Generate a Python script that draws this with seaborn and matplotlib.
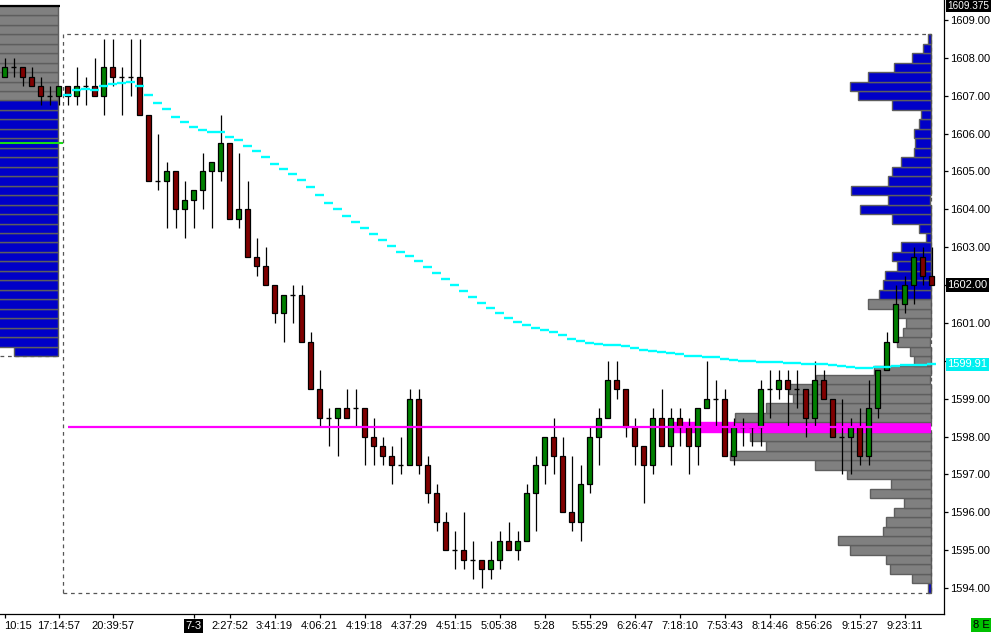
import numpy as np
import pandas as pd
import matplotlib
matplotlib.use("Agg")
import matplotlib.pyplot as plt
import seaborn as sns

# ---------------- data ----------------
opens = [1607.5, 1607.75, 1607.75, 1607.5, 1607.25, 1607.0, 1607.0, 1607.25, 1607.0, 1607.25,
         1607.25, 1607.0, 1607.75, 1607.5, 1607.5, 1607.5, 1606.5, 1604.75, 1604.75, 1605.0,
         1604.0, 1604.25, 1604.5, 1605.0, 1605.0, 1605.75, 1603.75, 1604.0, 1602.75, 1602.5,
         1602.0, 1601.25, 1601.75, 1601.75, 1600.5, 1599.25, 1598.5, 1598.5, 1598.75, 1598.75,
         1598.75, 1598.0, 1597.75, 1597.5, 1597.25, 1597.25, 1599.0, 1597.25, 1596.5, 1595.75,
         1595.0, 1595.0, 1594.75, 1594.75, 1594.5, 1594.75, 1595.25, 1595.0, 1595.25, 1596.5,
         1597.25, 1598.0, 1597.5, 1596.0, 1595.75, 1596.75, 1598.0, 1598.5, 1599.5, 1599.25,
         1598.25, 1597.75, 1597.25, 1598.5, 1597.75, 1598.5, 1598.25, 1597.75, 1598.75, 1599.0,
         1599.0, 1597.5, 1598.25, 1598.25, 1598.25, 1599.25, 1599.25, 1599.5, 1599.25, 1599.25,
         1598.5, 1599.5, 1599.0, 1598.0, 1598.0, 1598.25, 1597.5, 1598.75, 1599.75, 1600.5,
         1601.5, 1602.0, 1602.75, 1602.25]
highs = [1608.0, 1608.0, 1607.75, 1607.75, 1607.5, 1607.25, 1607.25, 1607.25, 1607.75, 1607.5,
         1608.0, 1608.5, 1608.5, 1607.75, 1608.5, 1608.5, 1606.5, 1606.0, 1605.25, 1605.0,
         1604.75, 1604.5, 1605.5, 1605.25, 1606.5, 1605.75, 1605.5, 1604.75, 1603.25, 1603.0,
         1602.0, 1601.75, 1602.0, 1602.0, 1600.75, 1599.75, 1598.75, 1598.75, 1599.25, 1599.25,
         1598.75, 1598.5, 1598.0, 1597.75, 1598.0, 1599.25, 1599.25, 1597.5, 1596.75, 1596.0,
         1595.5, 1596.0, 1595.25, 1594.75, 1595.25, 1595.5, 1595.75, 1595.5, 1596.75, 1597.5,
         1598.0, 1598.5, 1598.0, 1597.5, 1597.25, 1598.25, 1598.75, 1600.0, 1600.0, 1599.25,
         1598.5, 1597.75, 1598.75, 1599.25, 1598.75, 1598.75, 1598.5, 1598.75, 1600.0, 1599.5,
         1599.25, 1598.5, 1598.5, 1598.25, 1599.5, 1599.75, 1599.75, 1599.75, 1599.75, 1599.25,
         1600.0, 1599.75, 1599.0, 1599.0, 1598.5, 1598.75, 1599.5, 1599.75, 1600.75, 1602.0,
         1602.25, 1603.0, 1603.0, 1603.0]
lows = [1607.5, 1607.5, 1607.25, 1607.25, 1606.75, 1606.75, 1606.75, 1606.75, 1606.75, 1606.75,
        1607.0, 1606.5, 1607.25, 1606.5, 1607.0, 1606.5, 1604.75, 1604.5, 1603.5, 1603.5,
        1603.25, 1603.5, 1604.0, 1603.5, 1604.75, 1603.75, 1603.5, 1602.75, 1602.25, 1602.0,
        1601.0, 1600.5, 1601.0, 1600.5, 1599.25, 1598.25, 1597.75, 1597.5, 1598.5, 1598.25,
        1597.25, 1597.25, 1597.25, 1596.75, 1597.0, 1597.25, 1597.0, 1596.25, 1595.5, 1595.0,
        1594.5, 1594.5, 1594.25, 1594.0, 1594.25, 1594.5, 1595.0, 1594.75, 1595.25, 1595.5,
        1596.75, 1597.0, 1596.0, 1595.5, 1595.25, 1596.5, 1597.25, 1598.5, 1599.0, 1598.0,
        1597.25, 1596.25, 1597.0, 1597.75, 1597.25, 1597.75, 1597.0, 1597.25, 1598.75, 1598.25,
        1597.5, 1597.25, 1597.75, 1597.75, 1597.75, 1598.5, 1599.0, 1598.25, 1598.75, 1598.0,
        1598.25, 1599.0, 1598.0, 1597.0, 1597.0, 1597.25, 1597.25, 1598.5, 1599.75, 1600.5,
        1601.25, 1601.5, 1602.0, 1602.0]
closes = [1607.75, 1607.75, 1607.5, 1607.25, 1607.0, 1607.0, 1607.25, 1607.0, 1607.25, 1607.25,
          1607.0, 1607.75, 1607.5, 1607.5, 1607.5, 1606.5, 1604.75, 1604.75, 1605.0, 1604.0,
          1604.25, 1604.5, 1605.0, 1605.25, 1605.75, 1603.75, 1604.0, 1602.75, 1602.5, 1602.0,
          1601.25, 1601.75, 1601.75, 1600.5, 1599.25, 1598.5, 1598.5, 1598.75, 1598.5, 1598.75,
          1598.0, 1597.75, 1597.5, 1597.25, 1597.25, 1599.0, 1597.25, 1596.5, 1595.75, 1595.0,
          1595.0, 1594.75, 1594.75, 1594.5, 1594.75, 1595.25, 1595.0, 1595.25, 1596.5, 1597.25,
          1598.0, 1597.5, 1596.0, 1595.75, 1596.75, 1598.0, 1598.5, 1599.5, 1599.25, 1598.25,
          1597.75, 1597.25, 1598.5, 1597.75, 1598.5, 1598.25, 1597.75, 1598.75, 1599.0, 1599.0,
          1597.5, 1598.25, 1598.25, 1598.25, 1599.25, 1599.25, 1599.5, 1599.25, 1599.25, 1598.5,
          1599.5, 1599.0, 1598.0, 1598.0, 1598.25, 1597.5, 1598.75, 1599.75, 1600.5, 1601.5,
          1602.0, 1602.75, 1602.25, 1602.0]

tick_bars = [0, 6, 12, 21, 25, 30, 35, 40, 45, 50, 55, 60, 65, 70, 75, 80, 85, 90, 95, 100]
tick_labels = ["10:15", "17:14:57", "20:39:57", "7-3", "2:27:52", "3:41:19", "4:06:21",
               "4:19:18", "4:37:29", "4:51:15", "5:05:38", "5:28", "5:55:29", "6:26:47",
               "7:18:10", "7:53:43", "8:14:46", "8:56:26", "9:15:27", "9:23:11"]
price_ticks = [1594, 1595, 1596, 1597, 1598, 1599, 1600, 1601, 1602, 1603, 1604, 1605,
               1606, 1607, 1608, 1609]
hidden_price_labels = [1600, 1602]   # covered by the highlighted price boxes

vwap_first_bar = 7
vwap = [1607.03, 1607.14, 1607.19, 1607.14, 1607.27, 1607.32, 1607.34, 1607.37, 1607.27, 1607.03,
        1606.82, 1606.66, 1606.45, 1606.31, 1606.18, 1606.10, 1606.05, 1606.05, 1605.92, 1605.84,
        1605.68, 1605.55, 1605.39, 1605.21, 1605.07, 1604.94, 1604.78, 1604.60, 1604.39, 1604.18,
        1604.01, 1603.83, 1603.67, 1603.52, 1603.36, 1603.20, 1603.04, 1602.88, 1602.78, 1602.64,
        1602.49, 1602.33, 1602.17, 1602.01, 1601.85, 1601.69, 1601.54, 1601.40, 1601.27, 1601.14,
        1601.03, 1600.95, 1600.87, 1600.82, 1600.77, 1600.69, 1600.58, 1600.53, 1600.48, 1600.44,
        1600.43, 1600.43, 1600.38, 1600.35, 1600.29, 1600.26, 1600.23, 1600.21, 1600.18, 1600.14,
        1600.14, 1600.11, 1600.11, 1600.06, 1600.02, 1600.00, 1600.00, 1599.97, 1599.97, 1599.97,
        1599.94, 1599.94, 1599.92, 1599.92, 1599.92, 1599.90, 1599.87, 1599.84, 1599.82, 1599.82,
        1599.84, 1599.85, 1599.87, 1599.88, 1599.90, 1599.90, 1599.91]

# current-session volume profile (price level -> volume, arbitrary units)
profile_prices = [1594.0, 1594.25, 1594.5, 1594.75, 1595.0, 1595.25, 1595.5, 1595.75, 1596.0,
                  1596.25, 1596.5, 1596.75, 1597.0, 1597.25, 1597.5, 1597.75, 1598.0, 1598.25,
                  1598.5, 1598.75, 1599.0, 1599.25, 1599.5, 1599.75, 1600.0, 1600.25, 1600.5,
                  1600.75, 1601.0, 1601.25, 1601.5, 1601.75, 1602.0, 1602.25, 1602.5, 1602.75,
                  1603.0, 1603.25, 1603.5, 1603.75, 1604.0, 1604.25, 1604.5, 1604.75, 1605.0,
                  1605.25, 1605.5, 1605.75, 1606.0, 1606.25, 1606.5, 1606.75, 1607.0, 1607.25,
                  1607.5, 1607.75, 1608.0, 1608.25, 1608.5]
profile_volume = [2, 19, 41, 45, 81, 93, 47, 45, 37, 27, 61, 40, 84, 116, 200, 165, 181, 258,
                  196, 165, 138, 142, 114, 57, 17, 20, 33, 28, 25, 36, 63, 52, 47, 46, 34, 38,
                  30, 5, 12, 38, 71, 42, 80, 43, 39, 30, 17, 16, 17, 12, 10, 38, 73, 81, 63, 37,
                  19, 8, 2]
value_area = (1594.25, 1601.5)
poc_price = 1598.25

# previous-session profile (left), mostly cut off by the chart edge
prev_profile_prices = [1600.25, 1600.5, 1600.75, 1601.0, 1601.25, 1601.5, 1601.75, 1602.0,
                       1602.25, 1602.5, 1602.75, 1603.0, 1603.25, 1603.5, 1603.75, 1604.0,
                       1604.25, 1604.5, 1604.75, 1605.0, 1605.25, 1605.5, 1605.75, 1606.0,
                       1606.25, 1606.5, 1606.75, 1607.0, 1607.25, 1607.5, 1607.75, 1608.0,
                       1608.25, 1608.5, 1608.75, 1609.0, 1609.25]
prev_profile_volume = [44, 70, 75, 80, 85, 90, 95, 100, 110, 120, 115, 125, 130, 140, 150, 160,
                       150, 155, 165, 170, 160, 150, 140, 145, 150, 140, 130, 120, 125, 115, 110,
                       105, 100, 95, 90, 85, 80]
prev_value_area_high = 1607.0
prev_high = 1609.375
prev_level = 1605.75
last_price = 1602.00
vwap_last = 1599.91

# ---------------- style ----------------
sns.set_theme(style="white")
plt.rcParams['font.family'] = ['Liberation Sans', 'DejaVu Sans']

W, H = 991, 634
fig = plt.figure(figsize=(W / 100, H / 100), dpi=100)
fig.patch.set_facecolor('white')
ax = fig.add_axes([0, 20 / H, 944 / W, 614 / H])
ax.set_facecolor('white')

PX = 9.0                      # pixels per bar
def px2bar(px):
    return (px - 4.5) / PX

n = len(opens)
idx = np.arange(n)
O = np.array(opens); Hh = np.array(highs); L = np.array(lows); C = np.array(closes)

BLUE = '#0000C8'
GRAY = '#808080'
EDGE = '#5E5E5E'

# ----- previous-session profile (left) -----
right_prev = px2bar(57.5)
pp = np.array(prev_profile_prices)
pv = np.array(prev_profile_volume) / PX
cols = [GRAY if p >= prev_value_area_high else BLUE for p in pp]
ax.barh(pp, pv, left=right_prev - pv, height=0.25, color=cols, edgecolor=EDGE,
        linewidth=1.0, zorder=1)
ax.hlines(prev_high, -0.5, px2bar(60), color='black', lw=1.6, zorder=2)
ax.hlines(prev_level, -0.5, px2bar(63.3), color='#18DD18', lw=1.5, zorder=4)
ax.hlines(1600.125, -0.5, px2bar(56), color='#555555', lw=0.9,
          linestyles=(0, (3, 3)), zorder=2)

# ----- current-session profile (right) -----
anchor = px2bar(930.5)
cp = np.array(profile_prices)
cv = np.array(profile_volume) / PX
ccols = []
for p in cp:
    if p == poc_price:
        ccols.append('#FF00FF')
    elif value_area[0] <= p <= value_area[1]:
        ccols.append(GRAY)
    else:
        ccols.append(BLUE)
ecols = ['#FF00FF' if p == poc_price else EDGE for p in cp]
ax.barh(cp, cv, left=anchor - cv, height=0.25, color=ccols, edgecolor=ecols,
        linewidth=1.0, zorder=1)

# dashed range box
bx0, bx1 = px2bar(63.3), anchor
by0, by1 = 1593.875, 1608.625
ax.plot([bx0, bx1, bx1, bx0, bx0], [by0, by0, by1, by1, by0], color='#555555', lw=0.9,
        ls=(0, (3, 3)), zorder=1.5)

# POC extension line
ax.hlines(poc_price, vwap_first_bar, anchor, color='#FF00FF', lw=1.6, zorder=5)

# ----- candlesticks -----
ax.vlines(idx, L, Hh, color='black', lw=0.9, zorder=3)
up = C > O
dn = C < O
dj = C == O
ax.bar(idx[up], (C - O)[up], bottom=O[up], width=0.5, color='#008000', edgecolor='black',
       linewidth=0.9, zorder=3.5)
ax.bar(idx[dn], (O - C)[dn], bottom=C[dn], width=0.5, color='#800000', edgecolor='black',
       linewidth=0.9, zorder=3.5)
ax.hlines(C[dj], idx[dj] - 0.27, idx[dj] + 0.27, color='black', lw=1.0, zorder=3.5)

# ----- VWAP as stepped dashes (seaborn lineplot, one unit per bar) -----
vb = np.arange(vwap_first_bar, vwap_first_bar + len(vwap))
vdf = pd.DataFrame({
    'x': np.concatenate([vb - 0.5, vb + 0.5]),
    'price': np.concatenate([vwap, vwap]),
    'bar': np.concatenate([vb, vb]),
})
sns.lineplot(data=vdf, x='x', y='price', units='bar', estimator=None, color='#00FFFF',
             lw=1.7, ax=ax, legend=False, zorder=6)
for ln in ax.lines[-len(vb):]:
    ln.set_solid_capstyle('butt')

# ----- axes -----
ax.set_xlim(px2bar(0), px2bar(944))
ax.set_ylim(1609 - 594 / 37.87, 1609 + 20 / 37.87)
ax.set_xlabel('')
ax.set_ylabel('')

for s in ['left', 'top']:
    ax.spines[s].set_visible(False)
for s in ['right', 'bottom']:
    ax.spines[s].set_visible(True)
    ax.spines[s].set_color('black')
    ax.spines[s].set_linewidth(0.9)

ax.yaxis.tick_right()
ax.set_yticks(price_ticks)
ax.set_yticklabels(["" if v in hidden_price_labels else f"{v:.2f}" for v in price_ticks])
ax.set_xticks(tick_bars)
ax.set_xticklabels(tick_labels)
ax.tick_params(axis='y', which='both', right=True, left=False, length=3, width=0.9,
               color='black', labelsize=8, pad=1.5, labelcolor='black')
ax.tick_params(axis='x', which='both', bottom=True, length=3, width=0.9, color='black',
               labelsize=8, pad=2, labelcolor='black')
ax.grid(False)

for lab in ax.get_xticklabels():
    if lab.get_text() == '7-3':
        lab.set_color('white')
        lab.set_bbox(dict(boxstyle='square,pad=0.15', fc='black', ec='none'))
    if lab.get_text() == '10:15':
        lab.set_ha('left')

ytr = ax.get_yaxis_transform()
xr = 947.5 / 944
ax.text(xr, prev_high, f"{prev_high:.3f}", transform=ytr, ha='left', va='center',
        fontsize=7.2, color='white', clip_on=False, zorder=10,
        bbox=dict(boxstyle='square,pad=0.12', fc='black', ec='none'))
ax.text(xr, last_price, f"{last_price:.2f}", transform=ytr, ha='left', va='center',
        fontsize=8, color='white', clip_on=False, zorder=10,
        bbox=dict(boxstyle='square,pad=0.15', fc='black', ec='none'))
ax.text(xr, vwap_last, f"{vwap_last:.2f}", transform=ytr, ha='left', va='center',
        fontsize=8, color='white', clip_on=False, zorder=10,
        bbox=dict(boxstyle='square,pad=0.15', fc='#00F0F0', ec='none'))

fig.text(973 / W, 1 - 625 / H, "8 E", ha='left', va='center', fontsize=8, color='black',
         bbox=dict(boxstyle='square,pad=0.2', fc='#00C000', ec='none'))

fig.savefig('out.png', dpi=100, facecolor='white')
